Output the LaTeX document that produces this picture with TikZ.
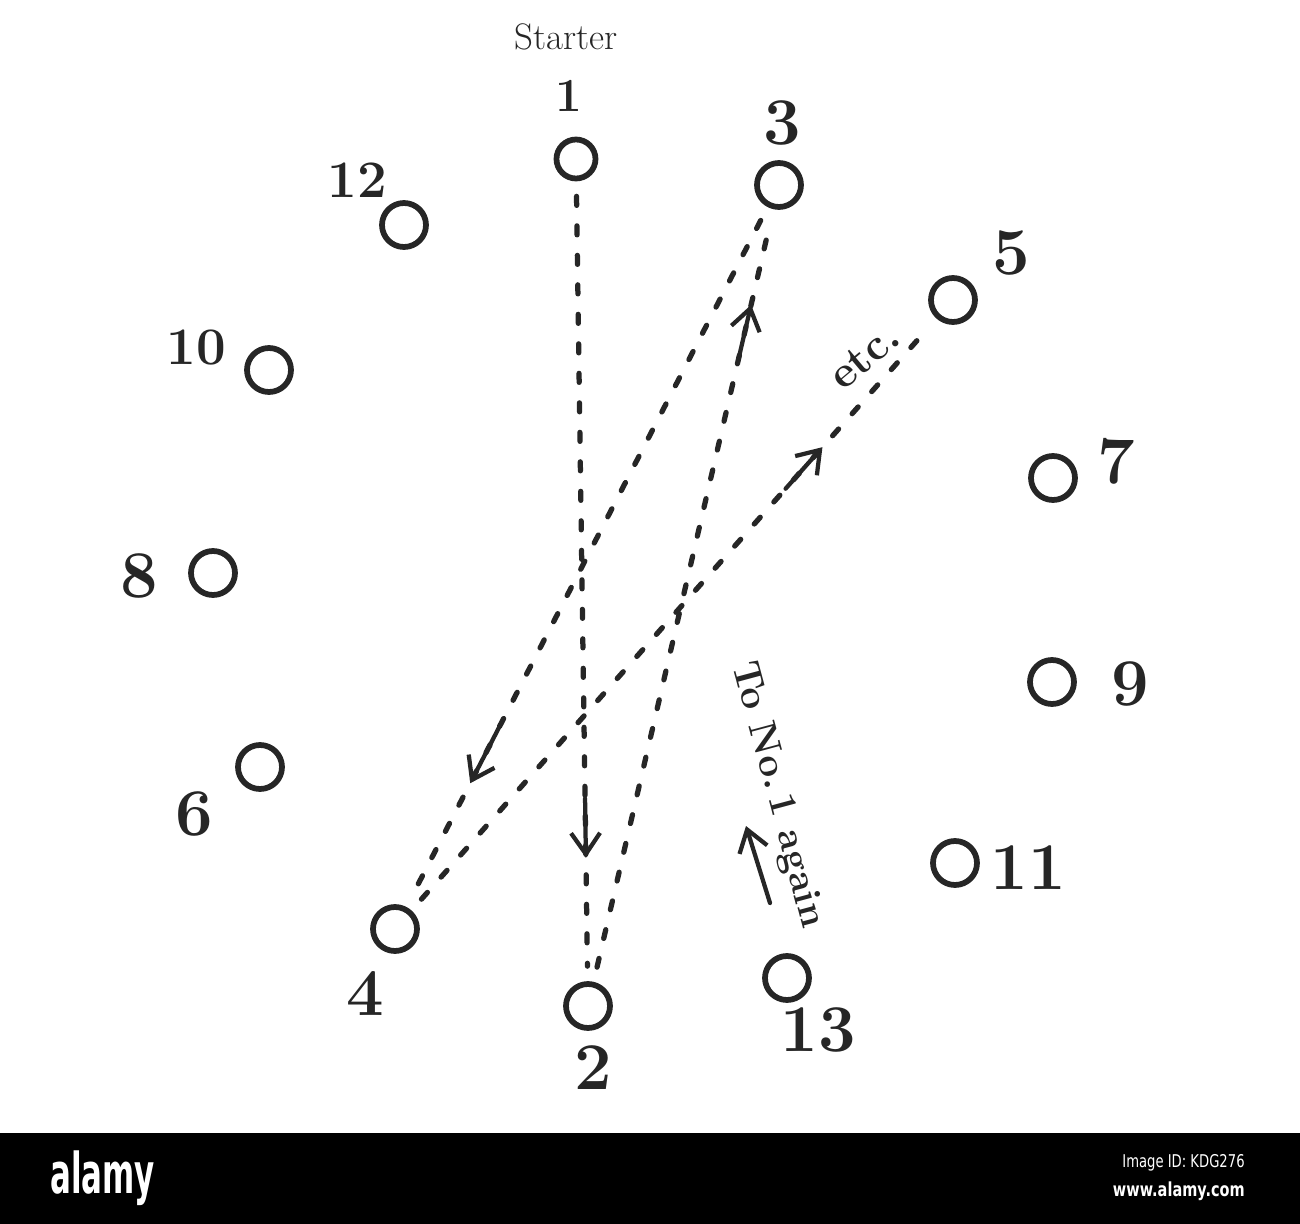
\documentclass[tikz,border=0pt]{standalone}
\usepackage{fontspec}
\usepackage{graphicx}
\usetikzlibrary{arrows.meta,calc}
\newfontfamily\wmfont{DejaVu Sans}
\definecolor{ink}{HTML}{262626}
\begin{document}
\begin{tikzpicture}[x=0.2mm,y=-0.2mm,
  hole/.style={circle,draw=ink,line width=1.15mm,minimum size=8.8mm,inner sep=0pt},
  num/.style={text=ink,inner sep=0pt,font=\fontsize{38}{38}\selectfont\bfseries},
  smallnum/.style={num,font=\fontsize{30}{30}\selectfont\bfseries},
  route/.style={draw=ink,line width=1.05mm,line cap=round,dash pattern=on 1.8mm off 4.1mm,shorten <=3mm,shorten >=3mm},
  dirarrow/.style={draw=ink,line width=0.85mm,line cap=round,-{Straight Barb[length=4.2mm,width=5.8mm,line width=0.85mm]}},
  note/.style={text=ink,inner sep=0pt}]
\useasboundingbox (0,0) rectangle (1300,1224);
\fill[white] (0,0) rectangle (1300,1224);

% holes
\node[hole,minimum size=7.8mm] (c1) at (576,159) {};
\node[hole] (c2) at (588,1006) {};
\node[hole] (c3) at (779,185) {};
\node[hole] (c4) at (395,929) {};
\node[hole] (c5) at (953,300) {};
\node[hole] (c6) at (260,767) {};
\node[hole] (c7) at (1053,478) {};
\node[hole] (c8) at (213,573) {};
\node[hole] (c9) at (1052,682) {};
\node[hole] (c10) at (269,370) {};
\node[hole] (c11) at (955,863) {};
\node[hole] (c12) at (404,225) {};
\node[hole] (c13) at (787,978) {};

% labels
\node[note,font=\fontsize{21}{21}\selectfont\addfontfeature{LetterSpace=6,FakeBold=1}] (starter) at (566,37) {Starter};
\node[num,font=\fontsize{27}{27}\selectfont\bfseries] (l1) at (569,96) {1};
\node[num] (l2) at (593,1068) {2};
\node[num] (l3) at (782,123) {3};
\node[num] (l4) at (365,994) {4};
\node[num] (l5) at (1011,253) {5};
\node[num] (l6) at (194,814) {6};
\node[num] (l7) at (1116,461) {7};
\node[num] (l8) at (139,576) {8};
\node[num] (l9) at (1130,684) {9};
\node[smallnum] (l10) at (196,348) {10};
\node[num] (l11) at (1028,868) {11};
\node[smallnum] (l12) at (357,180) {12};
\node[num] (l13) at (818,1030) {13};

% routes
\draw[route] (c1) -- (c2);
\draw[route] (c2) -- (c3);
\draw[route] (c3) -- (c4);
\draw[route] (c4) -- (c5);

% direction arrows
\draw[dirarrow] ($(c1)!0.755!(c2)$) -- ($(c1)!0.825!(c2)$);
\draw[dirarrow] ($(c2)!0.790!(c3)$) -- ($(c2)!0.854!(c3)$);
\draw[dirarrow] ($(c3)!0.730!(c4)$) -- ($(c3)!0.804!(c4)$);
\draw[dirarrow] ($(c4)!0.700!(c5)$) -- ($(c4)!0.766!(c5)$);

\node[note,rotate=40,font=\fontsize{25}{25}\selectfont\bfseries] (etc) at (864,356) {etc.};

% return note
\node[note,rotate=-75,font=\fontsize{22}{22}\selectfont\bfseries] (again) at (777,795) {To No.\,1 again};
\coordinate (ua) at (770,903);
\coordinate (ub) at (746,826);
\draw[dirarrow] (ua) -- (ub);

% bottom bar
\fill[black] (0,1133) rectangle (1300,1224);
\node[text=white,inner sep=0pt,anchor=west] (logo) at (50,1178) {\scalebox{0.55}[1]{\wmfont\bfseries\fontsize{32}{32}\selectfont alamy}};
\node[text=white,inner sep=0pt,anchor=east] (imgid) at (1245,1163) {\scalebox{0.75}[1]{\wmfont\fontsize{10}{10}\selectfont Image ID: KDG276}};
\node[text=white,inner sep=0pt,anchor=east] (url) at (1245,1191) {\scalebox{0.75}[1]{\wmfont\bfseries\fontsize{11}{11}\selectfont www.alamy.com}};
\end{tikzpicture}
\end{document}
